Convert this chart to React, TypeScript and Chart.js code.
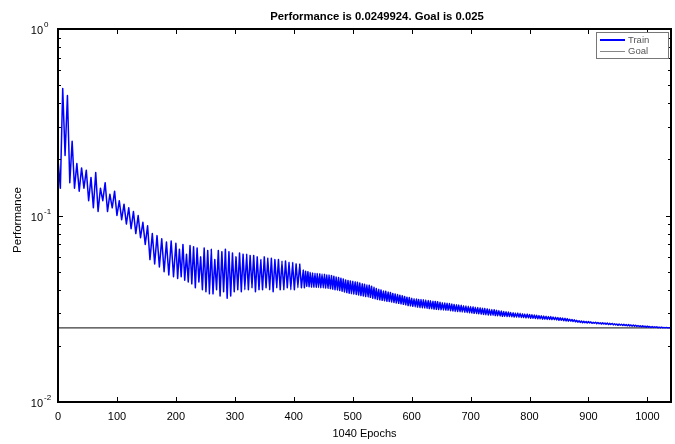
import React, { useEffect, useRef } from "react";
import { Chart, registerables } from "chart.js";

Chart.register(...registerables);

const TITLE = "Performance is 0.0249924. Goal is 0.025";
const X_LABEL = "1040 Epochs";
const Y_LABEL = "Performance";
const GOAL = 0.025;
const X_TICKS = [0, 100, 200, 300, 400, 500, 600, 700, 800, 900, 1000];
const Y_TICK_EXPONENTS = [0, -1, -2];

// epochs sampled from the training record
const epochs = [
  0, 4, 8, 12, 16, 20, 24, 28, 32, 36,
  40, 44, 48, 52, 56, 60, 64, 68, 72, 76,
  80, 84, 88, 92, 96, 100, 104, 108, 112, 116,
  120, 124, 128, 132, 136, 140, 144, 148, 152, 156,
  160, 164, 168, 172, 176, 180, 184, 188, 192, 196,
  200, 203, 206, 209, 212, 215, 218, 221, 224, 227,
  230, 233, 236, 239, 242, 245, 248, 251, 254, 257,
  260, 263, 266, 269, 272, 275, 278, 281, 284, 287,
  290, 293, 296, 299, 302, 305, 308, 311, 314, 317,
  320, 323, 326, 329, 332, 335, 338, 341, 344, 347,
  350, 353, 356, 359, 362, 365, 368, 371, 374, 377,
  380, 383, 386, 389, 392, 395, 398, 401, 404, 407,
  410, 413,
  416, 418, 420, 422, 424, 426, 428, 430, 432, 434,
  436, 438, 440, 442, 444, 446, 448, 450, 452, 454,
  456, 458, 460, 462, 464, 466, 468, 470, 472, 474,
  476, 478, 480, 482, 484, 486, 488, 490, 492, 494,
  496, 498, 500, 502, 504, 506, 508, 510, 512, 514,
  516, 518, 520, 522, 524, 526, 528, 530, 532, 534,
  536, 538, 540, 542, 544, 546, 548, 550, 552, 554,
  556, 558, 560, 562, 564, 566, 568, 570, 572, 574,
  576, 578, 580, 582, 584, 586, 588, 590, 592, 594,
  596, 598, 600, 602, 604, 606, 608, 610, 612, 614,
  616, 618, 620, 622, 624, 626, 628, 630, 632, 634,
  636, 638, 640, 642, 644, 646, 648, 650, 652, 654,
  656, 658, 660, 662, 664, 666, 668, 670, 672, 674,
  676, 678, 680, 682, 684, 686, 688, 690, 692, 694,
  696, 698, 700, 702, 704, 706, 708, 710, 712, 714,
  716, 718, 720, 722, 724, 726, 728, 730, 732, 734,
  736, 738, 740, 742, 744, 746, 748, 750, 752, 754,
  756, 758, 760, 762, 764, 766, 768, 770, 772, 774,
  776, 778, 780, 782, 784, 786, 788, 790, 792, 794,
  796, 798, 800, 802, 804, 806, 808, 810, 812, 814,
  816, 818, 820, 822, 824, 826, 828, 830, 832, 834,
  836, 838, 840, 842, 844, 846, 848, 850, 852, 854,
  856, 858, 860, 862, 864, 866, 868, 870, 872, 874,
  876, 878, 880, 882, 884, 886, 888, 890, 892, 894,
  896, 898, 900, 902, 904, 906, 908, 910, 912, 914,
  916, 918, 920, 922, 924, 926, 928, 930, 932, 934,
  936, 938, 940, 942, 944, 946, 948, 950, 952, 954,
  956, 958, 960, 962, 964, 966, 968, 970, 972, 974,
  976, 978, 980, 982, 984, 986, 988, 990, 992, 994,
  996, 998, 1000, 1002, 1004, 1006, 1008, 1010, 1012, 1014,
  1016, 1018, 1020, 1022, 1024, 1026, 1028, 1030, 1032, 1034,
  1036, 1038, 1040,
];

// training performance (MSE) at those epochs
const trainPerf = [
  0.20, 0.14, 0.48, 0.21, 0.44, 0.15, 0.25, 0.14, 0.19, 0.135,
  0.18, 0.14, 0.175, 0.12, 0.16, 0.11, 0.17, 0.105, 0.14, 0.12,
  0.15, 0.105, 0.13, 0.11, 0.135, 0.10, 0.12, 0.095, 0.115, 0.09,
  0.11, 0.085, 0.105, 0.08, 0.10, 0.076, 0.092, 0.07, 0.088, 0.058,
  0.08, 0.055, 0.078, 0.053, 0.075, 0.05, 0.072, 0.048, 0.073, 0.047,
  0.071, 0.046, 0.066, 0.047, 0.070, 0.045, 0.062, 0.044, 0.069, 0.043,
  0.068, 0.041, 0.067, 0.044, 0.060, 0.040, 0.067, 0.039, 0.065, 0.038,
  0.066, 0.038, 0.058, 0.040, 0.065, 0.037, 0.064, 0.039, 0.066, 0.036,
  0.064, 0.037, 0.063, 0.039, 0.060, 0.040, 0.063, 0.039, 0.062, 0.040,
  0.062, 0.040, 0.061, 0.041, 0.061, 0.039, 0.060, 0.040, 0.058, 0.040,
  0.060, 0.041, 0.059, 0.040, 0.059, 0.039, 0.058, 0.041, 0.058, 0.040,
  0.057, 0.040, 0.057, 0.041, 0.056, 0.040, 0.056, 0.040, 0.055, 0.041,
  0.055, 0.041,
  0.051, 0.041, 0.0503, 0.0418, 0.050, 0.0415, 0.0494, 0.0413, 0.0492, 0.0412,
  0.049, 0.0412, 0.0488, 0.0411, 0.0487, 0.041, 0.0485, 0.0409, 0.0484, 0.0409,
  0.0481, 0.0407, 0.0479, 0.0405, 0.0476, 0.0403, 0.0472, 0.04, 0.0468, 0.0398,
  0.0465, 0.0396, 0.0461, 0.0393, 0.0456, 0.0389, 0.0451, 0.0386, 0.0448, 0.0383,
  0.0446, 0.0381, 0.0444, 0.0379, 0.0441, 0.0377, 0.0438, 0.0375, 0.0434, 0.0372,
  0.0431, 0.037, 0.0428, 0.0368, 0.0425, 0.0366, 0.0423, 0.0364, 0.0418, 0.036,
  0.0412, 0.0358, 0.0406, 0.0355, 0.0402, 0.0353, 0.0399, 0.0351, 0.0394, 0.0349,
  0.0392, 0.0347, 0.0389, 0.0346, 0.0386, 0.0344, 0.0382, 0.0342, 0.0379, 0.0339,
  0.0377, 0.0338, 0.0374, 0.0336, 0.0371, 0.0334, 0.0368, 0.0332, 0.0365, 0.0329,
  0.0363, 0.0328, 0.036, 0.0326, 0.0358, 0.0324, 0.0357, 0.0323, 0.0355, 0.0321,
  0.0354, 0.032, 0.0353, 0.0319, 0.0352, 0.0318, 0.035, 0.0317, 0.0349, 0.0316,
  0.0347, 0.0315, 0.0346, 0.0314, 0.0345, 0.0313, 0.0343, 0.0312, 0.0341, 0.0311,
  0.034, 0.0311, 0.0338, 0.031, 0.0337, 0.0309, 0.0335, 0.0308, 0.0333, 0.0306,
  0.0332, 0.0306, 0.0331, 0.0305, 0.033, 0.0304, 0.0328, 0.0303, 0.0327, 0.0302,
  0.0326, 0.0301, 0.0325, 0.03, 0.0324, 0.0299, 0.0322, 0.0298, 0.0321, 0.0297,
  0.032, 0.0296, 0.0318, 0.0295, 0.0317, 0.0294, 0.0316, 0.0293, 0.0314, 0.0292,
  0.0313, 0.0292, 0.0312, 0.0291, 0.031, 0.029, 0.0309, 0.0289, 0.0308, 0.0288,
  0.0306, 0.0288, 0.0305, 0.0287, 0.0304, 0.0287, 0.0302, 0.0286, 0.0301, 0.0285,
  0.03, 0.0285, 0.03, 0.0284, 0.0299, 0.0284, 0.0297, 0.0283, 0.0296, 0.0282,
  0.0296, 0.0282, 0.0295, 0.0281, 0.0294, 0.0281, 0.0293, 0.028, 0.0292, 0.0279,
  0.0291, 0.0279, 0.029, 0.0278, 0.0289, 0.0278, 0.0288, 0.0277, 0.0287, 0.0277,
  0.0287, 0.0276, 0.0286, 0.0276, 0.0285, 0.0275, 0.0284, 0.0274, 0.0283, 0.0274,
  0.0282, 0.0273, 0.0281, 0.0272, 0.028, 0.0271, 0.0278, 0.0271, 0.0277, 0.027,
  0.0276, 0.0269, 0.0274, 0.0268, 0.0273, 0.0267, 0.0272, 0.0266, 0.0271, 0.0266,
  0.027, 0.0265, 0.027, 0.0265, 0.0269, 0.0264, 0.0268, 0.0264, 0.0268, 0.0263,
  0.0267, 0.0263, 0.0266, 0.0262, 0.0266, 0.0262, 0.0265, 0.0261, 0.0265, 0.026,
  0.0264, 0.026, 0.0264, 0.0259, 0.0263, 0.0259, 0.0262, 0.0258, 0.0262, 0.0258,
  0.0261, 0.0257, 0.0261, 0.0257, 0.026, 0.0256, 0.026, 0.0256, 0.0259, 0.0255,
  0.0259, 0.0255, 0.0258, 0.0254, 0.0257, 0.0254, 0.0256, 0.0253, 0.0256, 0.0253,
  0.0255, 0.0252, 0.0255, 0.0252, 0.0254, 0.0251, 0.0254, 0.0251, 0.0253, 0.0251,
  0.0253, 0.025, 0.0252, 0.025, 0.0252, 0.025, 0.0251, 0.025, 0.0251, 0.025,
  0.025, 0.02499, 0.0249924,
];

const FONT = "'Liberation Sans', Arial, Helvetica, sans-serif";

const matlabAxesPlugin = {
  id: "matlabAxes",
  afterDatasetsDraw(chart: any) {
    const { ctx, chartArea: a, scales } = chart;
    const xs = scales.x;
    const ys = scales.y;
    ctx.save();

    // inside tick marks
    ctx.strokeStyle = "#000";
    ctx.lineWidth = 1;
    ctx.beginPath();
    X_TICKS.forEach((t) => {
      const px = Math.round(xs.getPixelForValue(t)) + 0.5;
      ctx.moveTo(px, a.bottom);
      ctx.lineTo(px, a.bottom - 5);
      ctx.moveTo(px, a.top);
      ctx.lineTo(px, a.top + 5);
    });
    Y_TICK_EXPONENTS.forEach((e) => {
      const py = Math.round(ys.getPixelForValue(Math.pow(10, e))) + 0.5;
      ctx.moveTo(a.left, py);
      ctx.lineTo(a.left + 5, py);
      ctx.moveTo(a.right, py);
      ctx.lineTo(a.right - 5, py);
      if (e < 0) {
        for (let m = 2; m <= 9; m++) {
          const v = m * Math.pow(10, e);
          const p = Math.round(ys.getPixelForValue(v)) + 0.5;
          ctx.moveTo(a.left, p);
          ctx.lineTo(a.left + 3, p);
          ctx.moveTo(a.right, p);
          ctx.lineTo(a.right - 3, p);
        }
      }
    });
    ctx.stroke();

    // frame
    ctx.lineWidth = 2;
    ctx.strokeRect(a.left, a.top, a.right - a.left, a.bottom - a.top);

    // x tick labels
    ctx.fillStyle = "#000";
    ctx.font = `11px ${FONT}`;
    ctx.textAlign = "center";
    ctx.textBaseline = "middle";
    X_TICKS.forEach((t) => {
      ctx.fillText(String(t), xs.getPixelForValue(t), a.bottom + 15);
    });

    // y tick labels with superscript exponent
    Y_TICK_EXPONENTS.forEach((e) => {
      const py = ys.getPixelForValue(Math.pow(10, e));
      ctx.font = `11px ${FONT}`;
      ctx.textAlign = "right";
      ctx.textBaseline = "middle";
      ctx.fillText("10", 43, py + 2);
      ctx.font = `8px ${FONT}`;
      ctx.textAlign = "left";
      ctx.fillText(String(e), 44, py - 4);
    });

    // title
    ctx.font = `bold 11.3px ${FONT}`;
    ctx.textAlign = "center";
    ctx.textBaseline = "middle";
    ctx.fillText(TITLE, 377, 17);

    // x label
    ctx.font = `11px ${FONT}`;
    ctx.fillText(X_LABEL, (a.left + a.right) / 2, 434);

    // y label
    ctx.save();
    ctx.translate(18, 220);
    ctx.rotate(-Math.PI / 2);
    ctx.font = `11.5px ${FONT}`;
    ctx.fillText(Y_LABEL, 0, 0);
    ctx.restore();

    // legend
    const lx = 596, ly = 32, lw = 72, lh = 26;
    ctx.fillStyle = "#fff";
    ctx.fillRect(lx, ly, lw, lh);
    ctx.strokeStyle = "#777";
    ctx.lineWidth = 1;
    ctx.strokeRect(lx + 0.5, ly + 0.5, lw, lh);
    ctx.strokeStyle = "#0000ff";
    ctx.lineWidth = 2;
    ctx.beginPath();
    ctx.moveTo(600, 40);
    ctx.lineTo(625, 40);
    ctx.stroke();
    ctx.strokeStyle = "#888";
    ctx.lineWidth = 1;
    ctx.beginPath();
    ctx.moveTo(600, 51.5);
    ctx.lineTo(625, 51.5);
    ctx.stroke();
    ctx.fillStyle = "#555";
    ctx.font = `9.5px ${FONT}`;
    ctx.textAlign = "left";
    ctx.textBaseline = "middle";
    ctx.fillText("Train", 628, 40);
    ctx.fillText("Goal", 628, 51);

    ctx.restore();
  },
};

export default function App() {
  const canvasRef = useRef<HTMLCanvasElement | null>(null);

  useEffect(() => {
    document.body.style.margin = "0";
    const canvas = canvasRef.current;
    if (!canvas) return;
    const trainData = epochs.map((x, i) => ({ x, y: trainPerf[i] }));
    const goalData = [
      { x: epochs[0], y: GOAL },
      { x: epochs[epochs.length - 1], y: GOAL },
    ];
    const chart = new Chart(canvas, {
      type: "line",
      data: {
        datasets: [
          {
            label: "Goal",
            data: goalData,
            borderColor: "#3a3a3a",
            borderWidth: 1.2,
            pointRadius: 0,
            tension: 0,
            order: 2,
          },
          {
            label: "Train",
            data: trainData,
            borderColor: "#0000ff",
            borderWidth: 1.5,
            borderJoinStyle: "round",
            borderCapStyle: "round",
            pointRadius: 0,
            // tiny tension so every vertex is stroked (avoids the per-pixel fast path)
            tension: 0.0001,
            order: 1,
          },
        ],
      },
      options: {
        responsive: false,
        animation: false,
        devicePixelRatio: 1,
        layout: { padding: { left: 58, top: 29, right: 4, bottom: 42 } },
        plugins: {
          legend: { display: false },
          title: { display: false },
          tooltip: { enabled: false },
        },
        scales: {
          x: { type: "linear", min: 0, max: 1040, display: false },
          y: { type: "logarithmic", min: 0.01, max: 1, display: false },
        },
      },
      plugins: [matlabAxesPlugin],
    });
    return () => chart.destroy();
  }, []);

  return (
    <div style={{ width: 675, height: 444, background: "#fff" }}>
      <canvas ref={canvasRef} width={675} height={444} />
    </div>
  );
}
